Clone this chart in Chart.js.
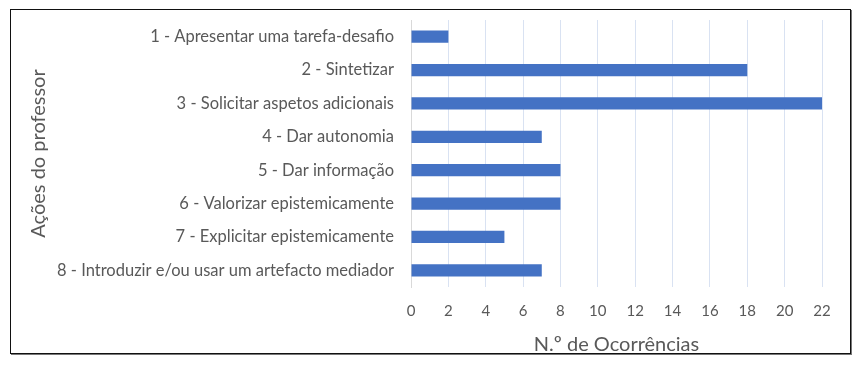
<!DOCTYPE html>
<html>
<head>
<meta charset="utf-8">
<script src="https://cdn.jsdelivr.net/npm/chart.js@4"></script>
<style>
    html, body { margin: 0; padding: 0; background: #fff; }
    #frame {
        position: absolute; left: 10px; top: 9px;
        width: 839px; height: 343px;
        border: 1px solid #111;
        box-shadow: 1px 1px 0 #777;
    }
    canvas { display: block; }
</style>
</head>
<body>
<div id="frame"><canvas id="chart" width="839" height="343"></canvas></div>
<script>
// ── Data ──────────────────────────────────────────────────────────────────────
const ACTIONS = [
    '1 - Apresentar uma tarefa-desafio',
    '2 - Sintetizar',
    '3 - Solicitar aspetos adicionais',
    '4 - Dar autonomia',
    '5 - Dar informação',
    '6 - Valorizar epistemicamente',
    '7 - Explicitar epistemicamente',
    '8 - Introduzir e/ou usar um artefacto mediador',
];
const OCCURRENCES = [2, 18, 22, 7, 8, 8, 5, 7];
const X_MAX  = 22;
const X_STEP = 2;

const BAR_COLOR  = '#4472c4';
const TEXT_COLOR = '#595959';
const FONT = "Lato, 'Open Sans', Arial, sans-serif";

new Chart(document.getElementById('chart'), {
    type: 'bar',
    data: {
        labels: ACTIONS,
        datasets: [{
            data: OCCURRENCES,
            backgroundColor: BAR_COLOR,
            borderWidth: 0,
            categoryPercentage: 1,
            barPercentage: 0.37,
        }]
    },
    options: {
        indexAxis: 'y',
        responsive: false,
        animation: false,
        layout: { padding: { top: 10, right: 28, bottom: 0, left: 0 } },
        plugins: { legend: { display: false }, tooltip: { enabled: false } },
        scales: {
            x: {
                min: 0, max: X_MAX,
                ticks: { stepSize: X_STEP, padding: 15, color: TEXT_COLOR,
                         font: { family: FONT, size: 15 }, maxRotation: 0 },
                grid: { drawTicks: false,
                        color: c => c.tick && c.tick.value === 0 ? '#d9d9d9' : '#d9e2f2' },
                border: { display: false },
                title: { display: true, text: 'N.º de Ocorrências', color: TEXT_COLOR,
                         font: { family: FONT, size: 20 }, padding: { top: 0, bottom: -4 } },
                afterFit: s => { s.height = 66; s.paddingLeft = 0; s.paddingRight = 0; },
            },
            y: {
                ticks: { padding: 17, color: TEXT_COLOR, font: { family: FONT, size: 16.5 } },
                grid: { display: false, drawTicks: false },
                border: { display: true, color: '#d9d9d9' },
                title: { display: true, text: 'Ações do professor', color: TEXT_COLOR,
                         font: { family: FONT, size: 20 }, padding: { top: 16, bottom: 0 } },
                afterFit: s => { s.width = 400; s.paddingTop = 0; s.paddingBottom = 0; },
            }
        }
    }
});
</script>
</body>
</html>
